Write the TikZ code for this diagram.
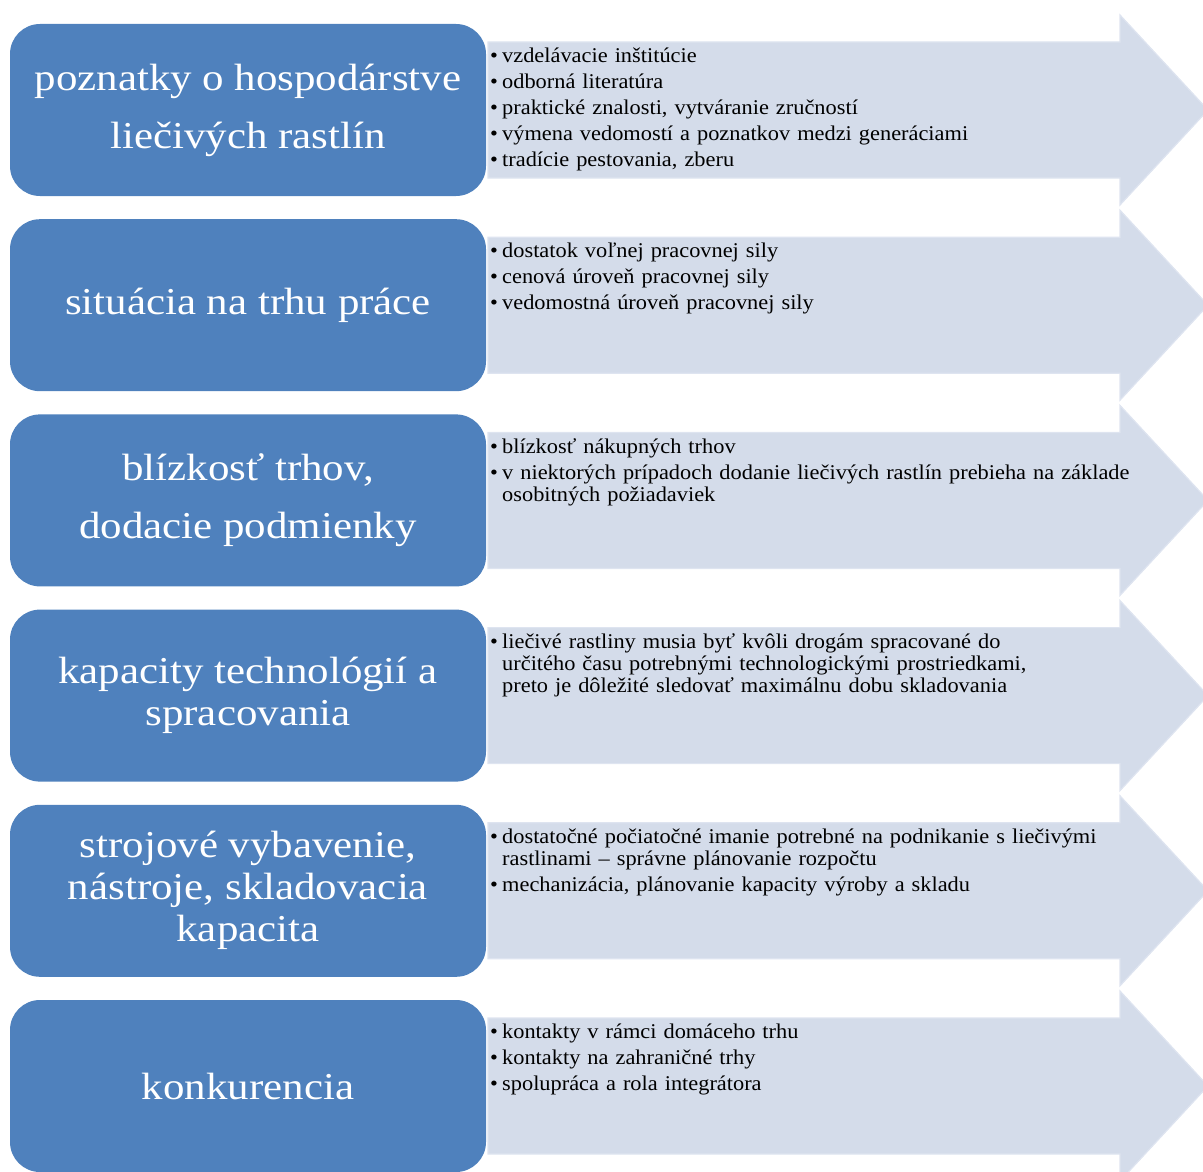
\documentclass[tikz,border=0pt]{standalone}
\usepackage{fontspec}
\setmainfont{Liberation Serif}
\newfontfamily\boxfont[FakeStretch=1.13]{Liberation Serif}
\newfontfamily\listfont[FakeStretch=1.065,WordSpace=0.7]{Liberation Serif}
\definecolor{boxblue}{RGB}{79,129,189}
\definecolor{arrowfill}{RGB}{212,220,234}
\definecolor{arrowedge}{RGB}{222,228,240}
\newcommand\itm[1]{\hangindent=12pt\hangafter=1\noindent\makebox[12pt][l]{\textbullet}#1\par}
\tikzset{
  factor/.style={draw=none, fill=boxblue, rounded corners=30pt, minimum width=476pt,
    minimum height=172pt, inner sep=0pt, align=center, text=white,
    font=\boxfont\fontsize{38}{42}\selectfont},
  band/.style={fill=arrowfill, draw=arrowedge, line width=1.2pt},
  items/.style={anchor=north west, inner sep=0pt, text width=680pt, align=left,
    font=\listfont\fontsize{21}{22}\selectfont}
}
\begin{document}
\begin{tikzpicture}[x=1pt, y=-1pt]
\useasboundingbox (0,0) rectangle (1203,1172);
% one row: index, box text, list of items
\foreach \k/\lbl/\lst in {
 0/{poznatky o hospodárstve\\[16pt]liečivých rastlín}/{\itm{vzdelávacie inštitúcie}\itm{odborná literatúra}\itm{praktické znalosti, vytváranie zručností}\itm{výmena vedomostí a poznatkov medzi generáciami}\itm{tradície pestovania, zberu}},
 1/{situácia na trhu práce}/{\itm{dostatok voľnej pracovnej sily}\itm{cenová úroveň pracovnej sily}\itm{vedomostná úroveň pracovnej sily}},
 2/{blízkosť trhov,\\[16pt]dodacie podmienky}/{\itm{blízkosť nákupných trhov}\itm{v niektorých prípadoch dodanie liečivých rastlín prebieha na základe\newline osobitných požiadaviek}},
 3/{kapacity technológií a\\spracovania}/{\itm{liečivé rastliny musia byť kvôli drogám spracované do\newline určitého času potrebnými technologickými prostriedkami,\newline preto je dôležité sledovať maximálnu dobu skladovania}},
 4/{strojové vybavenie,\\nástroje, skladovacia\\kapacita}/{\itm{dostatočné počiatočné imanie potrebné na podnikanie s liečivými\newline rastlinami – správne plánovanie rozpočtu}\itm{mechanizácia, plánovanie kapacity výroby a skladu}},
 5/{konkurencia}/{\itm{kontakty v rámci domáceho trhu}\itm{kontakty na zahraničné trhy}\itm{spolupráca a rola integrátora}}}
{
  \pgfmathsetmacro\cy{110+195.2*\k}
  \pgfmathsetmacro\top{\cy-68}
  \pgfmathsetmacro\bot{\cy+68}
  \pgfmathsetmacro\htop{\cy-95}
  \pgfmathsetmacro\hbot{\cy+95}
  \draw[band] (488,\top) -- (1120,\top) -- (1120,\htop) -- (1208,\cy)
     -- (1120,\hbot) -- (1120,\bot) -- (488,\bot) -- cycle;
  \node[factor] (f\k) at (248,\cy) {\lbl};
  \node[items] (i\k) at (490,\top+6) {\setlength{\parskip}{4pt}\lst};
}
\end{tikzpicture}
\end{document}
